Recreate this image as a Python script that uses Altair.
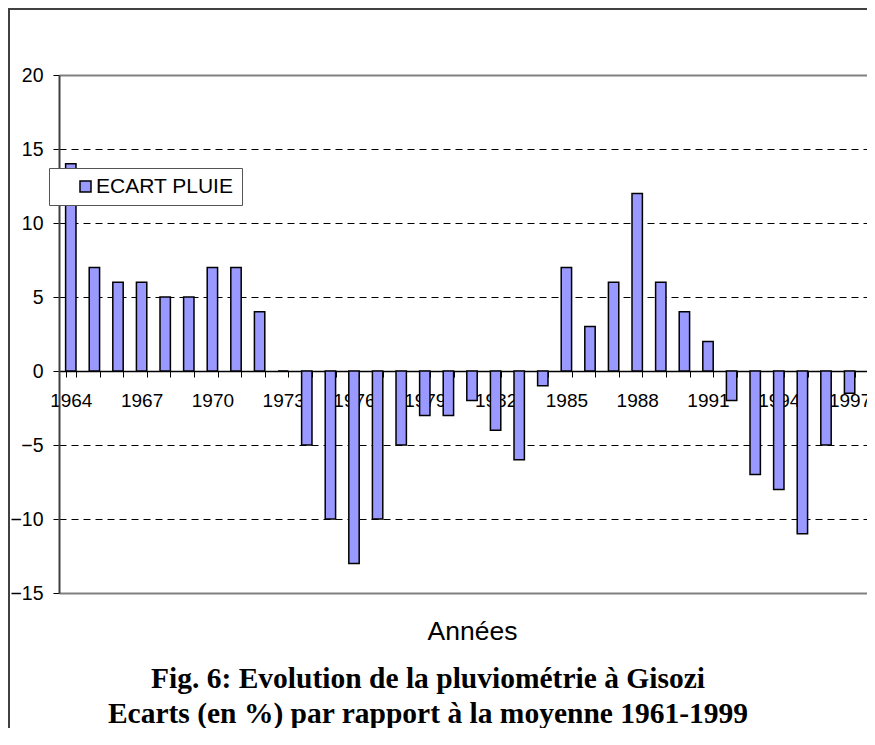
import altair as alt
import pandas as pd

# ---- data ----
years = [1964, 1965, 1966, 1967, 1968, 1969, 1970, 1971, 1972, 1973,
         1974, 1975, 1976, 1977, 1978, 1979, 1980, 1981, 1982, 1983,
         1984, 1985, 1986, 1987, 1988, 1989, 1990, 1991, 1992, 1993,
         1994, 1995, 1996, 1997, 1998]
ecart = [14, 7, 6, 6, 5, 5, 7, 7, 4, 0,
         -5, -10, -13, -10, -5, -3, -3, -2, -4, -6,
         -1, 7, 3, 6, 12, 6, 4, 2, -2, -7,
         -8, -11, -5, -1.5, -2]
serie = "ECART PLUIE"
y_ticks = [-15, -10, -5, 0, 5, 10, 15, 20]
x_title = "Années"
title_lines = ["Fig. 6: Evolution de la pluviométrie à Gisozi",
               "Ecarts (en %) par rapport à la moyenne 1961-1999"]

df = pd.DataFrame({"annee": years, "ecart": ecart, "serie": serie})

SANS = "Liberation Sans, Arial, Helvetica, sans-serif"
SERIF = "Liberation Serif, Times New Roman, serif"

edge_test = "datum.value == 20 || datum.value == -15"

# outer chart frame (only its top and left edges are visible in the reference)
frame_top = alt.Chart(alt.Data(values=[{}])).mark_rule(
    stroke="#404040", strokeWidth=2
).encode(x=alt.value(-51), x2=alt.value(808), y=alt.value(-66))

frame_left = alt.Chart(alt.Data(values=[{}])).mark_rule(
    stroke="#404040", strokeWidth=2
).encode(x=alt.value(-50), y=alt.value(-67), y2=alt.value(653))

bars = alt.Chart(df).mark_bar(stroke="black", strokeWidth=1.5).encode(
    x=alt.X(
        "annee:O",
        scale=alt.Scale(range=[0, 826], paddingInner=0.56, paddingOuter=0.28),
        axis=alt.Axis(
            title=x_title, titleFont=SANS, titleFontSize=26.5, titleFontWeight="normal",
            titleColor="black", titleX=413, titleY=268, titleBaseline="alphabetic",
            titleAlign="center",
            offset=-222,
            labelExpr="datum.value % 3 == 2 ? datum.label : ''",
            labelAngle=0, labelFont=SANS, labelFontSize=19, labelColor="black",
            labelPadding=14, labelOverlap=False, labelBaseline="top",
            tickBand="extent", tickSize=6, tickColor="black", tickWidth=1,
            domainColor="black", domainWidth=1.5, grid=False,
        ),
    ),
    y=alt.Y(
        "ecart:Q",
        stack=None,
        scale=alt.Scale(domain=[-15, 20], nice=False, zero=False),
        axis=alt.Axis(
            values=y_ticks, title=None,
            labelFont=SANS, labelFontSize=19.5, labelColor="black", labelPadding=10,
            tickSize=6, tickColor="black", tickWidth=1,
            domainColor="#404040", domainWidth=2,
            grid=True,
            gridColor={"condition": {"test": edge_test, "value": "#808080"}, "value": "black"},
            gridDash={"condition": {"test": edge_test + " || datum.value == 0", "value": []},
                      "value": [7, 5]},
            gridWidth={"condition": {"test": edge_test, "value": 2}, "value": 1},
        ),
    ),
    color=alt.Color(
        "serie:N",
        scale=alt.Scale(domain=[serie], range=["#9999FF"]),
        legend=alt.Legend(
            title=None, orient="none", legendX=-10, legendY=93,
            fillColor="white", strokeColor="#555555", padding=8,
            symbolType="square", symbolSize=121, symbolStrokeColor="black",
            symbolStrokeWidth=1.5, symbolOffset=18, labelOffset=0,
            labelFont=SANS, labelFontSize=21, labelColor="black",
        ),
    ),
)

chart = alt.layer(frame_top, frame_left, bars).properties(
    width=808,
    height=518,
    autosize=alt.AutoSizeParams(type="none"),
    padding={"left": 51, "top": 67, "right": 0, "bottom": 135},
    title=alt.Title(
        text=title_lines, orient="bottom", anchor="middle", frame="group",
        font=SERIF, fontSize=29.5, fontWeight="bold", color="black",
        lineHeight=35, offset=0, dx=-35, dy=-64, baseline="top",
    ),
).configure_view(stroke=None)

chart.save("out.html", embed_options={"renderer": "svg", "actions": False})
